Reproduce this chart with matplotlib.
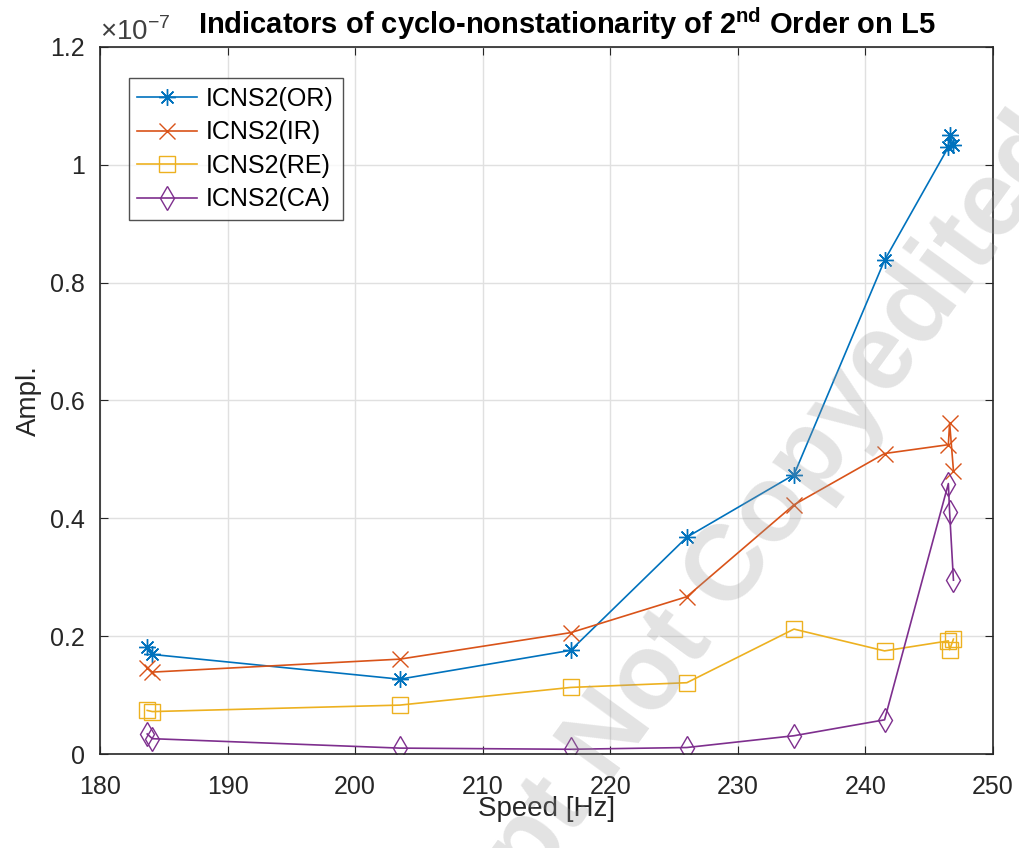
import matplotlib
matplotlib.use("Agg")
import matplotlib.pyplot as plt

plt.rcParams['font.family'] = ['Liberation Sans', 'DejaVu Sans']
plt.rcParams['mathtext.fontset'] = 'custom'
plt.rcParams['mathtext.rm'] = 'Liberation Sans'
plt.rcParams['mathtext.bf'] = 'Liberation Sans:bold'

# Speed [Hz]
speed = [183.7, 184.1, 203.5, 216.9, 226.0, 234.4, 241.5, 246.5, 246.6, 246.9]
# Amplitudes in units of 1e-7
icns2_or = [0.181, 0.169, 0.127, 0.176, 0.368, 0.474, 0.838, 1.030, 1.051, 1.033]
icns2_ir = [0.146, 0.139, 0.161, 0.206, 0.267, 0.423, 0.510, 0.525, 0.562, 0.481]
icns2_re = [0.074, 0.072, 0.083, 0.113, 0.121, 0.212, 0.175, 0.192, 0.177, 0.195]
icns2_ca = [0.034, 0.026, 0.010, 0.008, 0.011, 0.031, 0.058, 0.459, 0.410, 0.295]

labels = ['ICNS2(OR)', 'ICNS2(IR)', 'ICNS2(RE)', 'ICNS2(CA)']
xticks = [180, 190, 200, 210, 220, 230, 240, 250]
yticks = [0, 0.2, 0.4, 0.6, 0.8, 1.0, 1.2]
yticklabels = ['0', '0.2', '0.4', '0.6', '0.8', '1', '1.2']

colors = ['#0072BD', '#D95319', '#EDB120', '#7E2F8E']
markers = [(8, 2, 0), 'x', 's', 'd']

fig = plt.figure(figsize=(10.19, 8.48), dpi=100)
ax = fig.add_axes([100/1019, 1-754/848, (993-100)/1019, (754-47)/848])

for y, lab, c, m in zip([icns2_or, icns2_ir, icns2_re, icns2_ca], labels, colors, markers):
    ax.plot(speed, y, color=c, marker=m, markersize=12, markerfacecolor='none',
            markeredgecolor=c, markeredgewidth=1.0, linewidth=1.2, label=lab)

ax.set_xlim(180, 250)
ax.set_ylim(0, 1.2)
ax.set_xticks(xticks)
ax.set_yticks(yticks)
ax.set_yticklabels(yticklabels)
ax.grid(True, color='#e0e0e0', linewidth=1.0)
ax.set_axisbelow(True)
ax.tick_params(direction='in', top=True, right=True, labelsize=18, length=6,
               colors='#262626', labelcolor='#262626')
ax.tick_params(axis='x', pad=15)
ax.tick_params(axis='y', pad=11)
for s in ax.spines.values():
    s.set_color('#262626')
    s.set_linewidth(1.2)

ax.set_xlabel('Speed [Hz]', fontsize=20, color='#262626', labelpad=-2)
ax.set_ylabel('Ampl.', fontsize=20, color='#262626', labelpad=6)
ax.set_title(r'Indicators of cyclo-nonstationarity of 2$^{\mathbf{nd}}$ Order on L5',
             fontsize=21, fontweight='bold', pad=9, x=0.523)
ax.text(0.0, 1.002, r'$\times10^{-7}$', transform=ax.transAxes, fontsize=20,
        color='#404040', ha='left', va='bottom')

leg = ax.legend(loc='upper left', bbox_to_anchor=(0.032, 0.956), fontsize=18,
                frameon=True, fancybox=False, edgecolor='#262626',
                handlelength=2.4, borderpad=0.35, labelspacing=0.38, handletextpad=0.35,
                borderaxespad=0)
leg.get_frame().set_linewidth(1.0)

fig.text(1010/1019, 1-100/848, 'Manuscript Not Copyedited', fontsize=77,
         fontweight='bold', color='#9a9a9a', alpha=0.28, rotation=54,
         rotation_mode='anchor', ha='right', va='top')

fig.savefig('out.png', dpi=100, facecolor='white')
